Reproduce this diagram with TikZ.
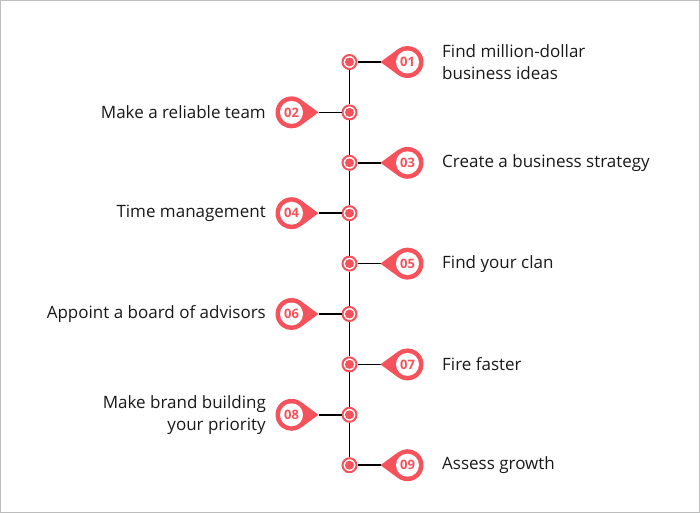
\documentclass[tikz,border=0pt]{standalone}
\usepackage{fontspec}
\setmainfont{Open Sans}
\usetikzlibrary{calc}
\definecolor{brandred}{RGB}{245,82,92}
\definecolor{darktext}{RGB}{25,25,25}
\definecolor{framegray}{RGB}{190,190,190}

\begin{document}
\begin{tikzpicture}[x=1pt, y=1pt,
    dot/.style={circle, draw=brandred, line width=2pt, fill=white, minimum size=14pt, inner sep=0pt},
    badge/.style={circle, fill=white, minimum size=23pt, inner sep=0pt, text=brandred, font=\bfseries\fontsize{13}{13}\selectfont},
    itemtext/.style={text=darktext, inner sep=0pt, font=\fontsize{17}{22}\selectfont},
    link/.style={line width=1.6pt, black}
]
    \useasboundingbox (0,0) rectangle (700,-513);
    \draw[framegray, line width=1pt] (0.5,-0.5) rectangle (699.5,-512.5);

    \foreach \n/\s/\anc/\al/\txt [count=\k] in {
        01/1/west/left/{Find million-dollar\\business ideas},
        02/-1/east/right/{Make a reliable team},
        03/1/west/left/{Create a business strategy},
        04/-1/east/right/{Time management},
        05/1/west/left/{Find your clan},
        06/-1/east/right/{Appoint a board of advisors},
        07/1/west/left/{Fire faster},
        08/-1/east/right/{Make brand building\\your priority},
        09/1/west/left/{Assess growth}}
    {
        \pgfmathsetmacro\yy{-62-50.4*(\k-1)}
        \pgfmathsetmacro\aa{90+90*\s}
        \node[dot] (dot\k) at (349.5,\yy) {};
        \fill[brandred] (dot\k) circle (4.5pt);
        \ifnum\k>1
            \pgfmathtruncatemacro\prev{\k-1}
            \draw[link] (dot\prev) -- (dot\k);
        \fi
        % pin with the number
        \coordinate (tip\k) at ({349.5+31*\s},\yy);
        \coordinate (mid\k) at ({349.5+58*\s},\yy);
        \draw[link] (dot\k) -- (tip\k);
        \fill[brandred] (tip\k) -- ($(mid\k)+(\aa+54:16pt)$)
            arc[start angle=\aa+54, end angle=\aa+306, radius=16pt] -- cycle;
        \node[badge] (badge\k) at (mid\k) {\n};
        \node[itemtext, anchor=\anc, align=\al] (label\k) at ({354+88*\s},\yy) {\txt};
    }
\end{tikzpicture}
\end{document}
